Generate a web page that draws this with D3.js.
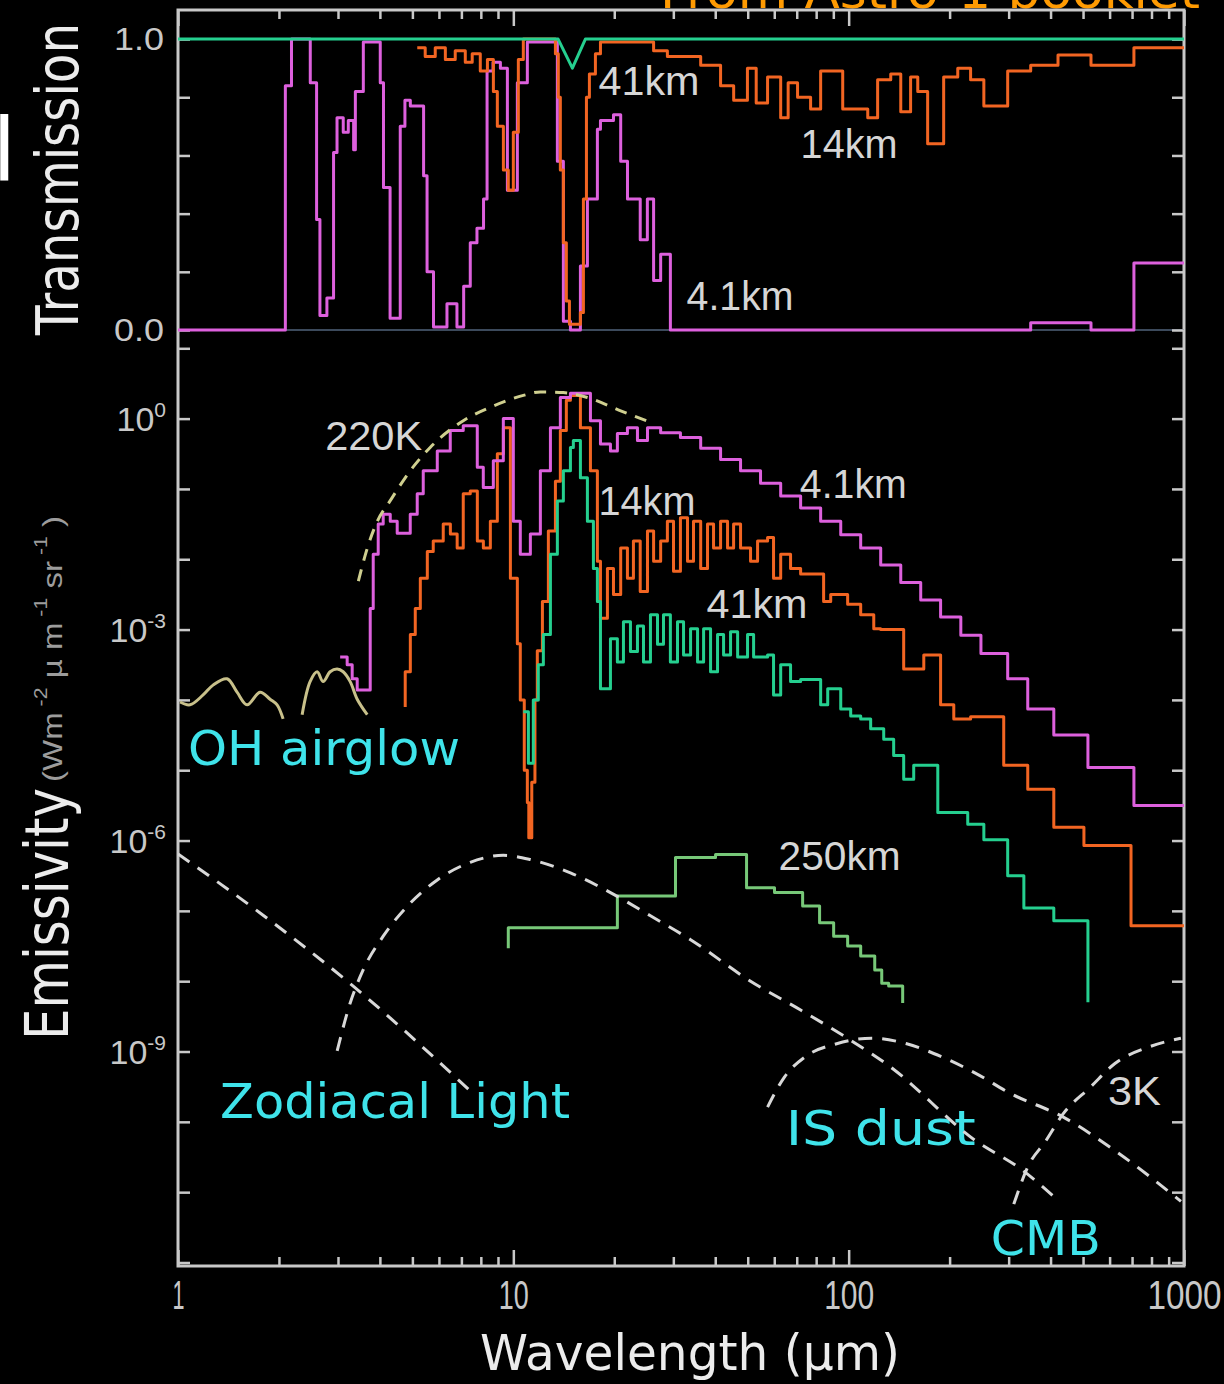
<!DOCTYPE html>
<html>
<head>
<meta charset="utf-8">
<script src="https://cdn.jsdelivr.net/npm/d3@7"></script>
<style>
  html, body { margin: 0; padding: 0; background: #000; }
  svg { display: block; }
</style>
</head>
<body>
<svg id="chart" width="1224" height="1384"></svg>
<script>
// ---- data: wavelength in micron, transmission 0..1 ----
const transMag = [[1,0],[2.09,0.84],[2.18,1.0],[2.48,0.85],[2.59,0.38],[2.65,0.05],[2.78,0.11],[2.91,0.61],[2.98,0.73],[3.11,0.68],[3.22,0.72],[3.34,0.62],[3.38,0.82],[3.57,0.99],[4.01,0.85],[4.10,0.49],[4.29,0.04],[4.60,0.7],[4.75,0.79],[4.93,0.77],[5.40,0.53],[5.53,0.2],[5.78,0.01],[6.34,0.09],[6.79,0.01],[7.11,0.15],[7.44,0.3],[7.79,0.35],[8.15,0.45],[8.35,0.89],[8.7,0.92],[9.15,0.9],[9.6,0.48],[10.28,0.85],[11.01,0.99],[13.53,0.58],[14.1,0.03],[14.8,0.0],[15.85,0.22],[16.63,0.45],[17.81,0.69],[18.19,0.72],[19.89,0.74],[20.9,0.58],[21.9,0.45],[23.9,0.31],[25.1,0.45],[26.2,0.17],[27.5,0.26],[29.4,0],[349,0.025],[528,0],[709,0.23],[1000,0.23]];
const transOra = [[5.17,0.97],[5.46,0.94],[5.85,0.97],[6.27,0.93],[6.71,0.96],[7.19,0.92],[7.54,0.95],[7.97,0.89],[8.37,0.93],[8.72,0.82],[8.96,0.7],[9.34,0.55],[9.66,0.48],[10.0,0.68],[10.35,0.93],[10.71,1.0],[13.35,0.95],[13.62,0.8],[13.81,0.55],[14.1,0.3],[14.39,0.1],[14.7,0.02],[15.85,0.06],[16.18,0.45],[16.52,0.8],[16.86,0.88],[17.57,0.95],[18.19,0.99],[26.2,0.96],[28.8,0.94],[36.2,0.91],[41.5,0.84],[45.4,0.79],[49.9,0.9],[53,0.78],[57.3,0.87],[62.7,0.73],[66,0.85],[70.4,0.8],[77,0.76],[82.5,0.89],[96,0.76],[114,0.73],[122,0.86],[133.5,0.88],[143,0.75],[153,0.87],[160.7,0.82],[172,0.64],[192,0.87],[211.5,0.9],[231,0.86],[253,0.77],[298,0.89],[349,0.91],[421,0.945],[528,0.91],[709,0.97],[1000,0.97]];
const transGrn = [[1,1],[13.6,1],[15.0,0.9],[16.4,1],[1000,1]];

// ---- data: wavelength in micron, log10 emissivity (W m-2 um-1 sr-1) ----
const emisMag = [[3.045,-3.39],[3.195,-3.5],[3.307,-3.7],[3.423,-3.86],[3.743,-2.7],[3.821,-1.93],[3.954,-1.5],[4.092,-1.36],[4.295,-1.46],[4.505,-1.63],[4.927,-1.36],[5.169,-1.07],[5.387,-0.74],[5.932,-0.46],[6.485,-0.17],[7.09,-0.1],[7.807,-0.69],[8.136,-0.98],[8.717,-0.6],[9.336,0.0],[10.0,-1.46],[10.49,-1.93],[11.24,-1.64],[12.04,-0.74],[12.9,-0.13],[13.81,0.3],[14.8,0.36],[16.98,-0.03],[18.19,-0.36],[19.48,-0.46],[20.43,-0.21],[21.89,-0.13],[23.45,-0.31],[25.12,-0.13],[27.5,-0.2],[31.5,-0.27],[36.2,-0.42],[41.5,-0.58],[47.6,-0.74],[54.6,-0.92],[62.7,-1.1],[71.9,-1.27],[82.5,-1.46],[94.7,-1.65],[108.6,-1.84],[124.6,-2.08],[143,-2.33],[164,-2.58],[188,-2.82],[216,-3.08],[248,-3.34],[298,-3.7],[342,-4.13],[409,-4.5],[517,-4.96],[709,-5.5],[1000,-5.5]];
const emisOra = [[4.76,-4.1],[4.76,-3.6],[4.93,-3.07],[5.10,-2.7],[5.28,-2.27],[5.54,-1.89],[5.77,-1.74],[6.18,-1.5],[6.49,-1.64],[6.80,-1.84],[7.09,-1.07],[7.44,-1.03],[7.81,-1.74],[8.14,-1.84],[8.54,-1.46],[8.96,-0.5],[9.34,-0.13],[9.80,-2.27],[10.28,-3.2],[10.49,-4.0],[10.78,-5.0],[11.01,-5.46],[11.12,-5.96],[11.35,-5.17],[11.6,-4.0],[11.79,-3.3],[12.21,-2.6],[12.72,-1.6],[13.35,-0.89],[13.81,-0.17],[14.39,0.26],[14.8,0.33],[15.85,-0.13],[16.98,-0.74],[17.81,-2.03],[18.19,-2.84],[19.08,-2.13],[19.89,-2.5],[20.9,-1.84],[21.89,-2.27],[22.81,-1.74],[23.9,-2.46],[25.12,-1.6],[26.2,-2.03],[27.5,-1.74],[28.8,-1.46],[30.04,-2.17],[31.5,-1.41],[33.07,-2.03],[34.46,-1.46],[36.2,-2.13],[37.94,-1.5],[39.54,-1.84],[41.5,-1.46],[43.53,-1.84],[45.38,-1.5],[47.6,-1.84],[50.98,-2.03],[53.5,-1.74],[57.3,-1.69],[59.7,-2.27],[62.7,-1.93],[67.1,-2.13],[71.9,-2.21],[84.2,-2.6],[88.4,-2.5],[99.3,-2.64],[108.6,-2.79],[118.8,-2.99],[124.6,-3.0],[145.9,-3.56],[167.5,-3.36],[188,-4.07],[205.8,-4.27],[231,-4.24],[290,-4.93],[342,-5.27],[409,-5.81],[503,-6.07],[695,-7.21],[1000,-7.21]];
const emisGrn = [[10.71,-4.17],[11.09,-4.9],[11.47,-4.0],[11.87,-3.5],[12.29,-3.07],[12.9,-1.93],[13.53,-1.17],[14.1,-0.74],[14.8,-0.41],[15.1,-0.31],[15.85,-0.84],[16.63,-1.46],[17.33,-2.13],[17.81,-2.6],[18.19,-3.84],[19.48,-3.13],[20.43,-3.46],[21.3,-2.89],[22.35,-3.31],[23.45,-2.95],[24.44,-3.46],[25.64,-2.79],[26.91,-3.21],[28.04,-2.79],[29.4,-3.46],[30.87,-2.89],[32.18,-3.36],[33.77,-2.99],[35.43,-3.46],[36.93,-2.99],[38.74,-3.6],[40.64,-3.07],[42.36,-3.36],[44.44,-3.03],[46.65,-3.39],[49.94,-3.07],[52.06,-3.39],[57.3,-3.36],[59.7,-3.93],[62.7,-3.5],[67.1,-3.74],[71.9,-3.71],[82.5,-4.07],[86.6,-3.84],[94.7,-4.13],[101.4,-4.23],[108.6,-4.27],[116.3,-4.41],[127.2,-4.56],[136.2,-4.79],[145.9,-5.13],[156.3,-4.93],[184.4,-5.6],[226.5,-5.77],[253,-5.99],[298,-6.5],[333,-6.96],[409,-7.14],[517,-8.3]];
const emis250 = [[9.66,-7.53],[9.66,-7.24],[20.43,-6.79],[30.45,-6.24],[40.09,-6.2],[49.6,-6.67],[60.1,-6.74],[72.9,-6.93],[81.9,-7.17],[90.2,-7.36],[99.3,-7.5],[108.6,-7.64],[119.6,-7.84],[125.5,-8.03],[131.6,-8.07],[144.9,-8.31]];
const bb220 = [[3.45,-2.31],[3.67,-1.84],[3.93,-1.46],[4.29,-1.17],[4.93,-0.74],[5.65,-0.41],[7.09,-0.03],[8.54,0.16],[10.71,0.33],[12.04,0.38],[14.1,0.37],[16.63,0.3],[20.9,0.11],[26.2,-0.07]];
const ohA = [[1.014,-4.03],[1.086,-4.07],[1.188,-3.93],[1.272,-3.79],[1.4,-3.7],[1.5,-3.89],[1.607,-4.07],[1.757,-3.89],[1.882,-3.99],[1.975,-4.07],[2.058,-4.27]];
const ohB = [[2.345,-4.21],[2.477,-3.74],[2.6,-3.6],[2.709,-3.74],[2.842,-3.6],[2.983,-3.56],[3.109,-3.6],[3.262,-3.74],[3.423,-3.99],[3.667,-4.21]];
const zodiScatter = [[1.0,-6.19],[1.757,-7.03],[3.33,-8.07],[7.44,-9.56]];
const zodiThermal = [[2.983,-8.99],[3.262,-8.31],[3.566,-7.84],[4.092,-7.36],[4.927,-6.89],[5.932,-6.56],[7.44,-6.31],[9.336,-6.21],[11.24,-6.27],[14.8,-6.46],[19.48,-6.74],[25.64,-7.07],[33.77,-7.41],[50.98,-8.0],[71.9,-8.41],[101.4,-8.84],[131.6,-9.2],[239.4,-10.27],[326,-10.67],[423.6,-11.13]];
const isDust = [[57.3,-9.79],[64.4,-9.36],[74.4,-9.07],[92.1,-8.89],[117.1,-8.81],[149,-8.89],[188.2,-9.07],[239.3,-9.31],[304.6,-9.6],[435.4,-9.93],[622.3,-10.41],[979,-11.13]];
const cmb = [[310.8,-11.17],[342.2,-10.64],[387.3,-10.27],[435.4,-9.89],[527.8,-9.5],[622.3,-9.17],[791.5,-8.93],[979,-8.81]];

// ---- ticks and labels ----
const waveMajor = [1, 10, 100, 1000];
const transTicks = [0, 0.2, 0.4, 0.6, 0.8, 1.0];
const emisExp = [-12, -11, -10, -9, -8, -7, -6, -5, -4, -3, -2, -1, 0, 1];
const emisLabelExp = [0, -3, -6, -9];
const transNotes = [["41km", 17.94, 0.808], ["14km", 71.9, 0.591], ["4.1km", 32.85, 0.069]];
const emisNotes = [["220K", 2.747, -0.45], ["14km", 17.94, -1.37], ["4.1km", 71.5, -1.13], ["41km", 37.68, -2.84], ["250km", 61.8, -6.42], ["3K", 593, -9.76]];
const sourceNotes = [["OH airglow", 1.071, -4.93], ["Zodiacal Light", 1.335, -9.95], ["IS dust", 64.9, -10.33], ["CMB", 265.4, -11.89]];

const svg = d3.select("#chart");
svg.append("rect").attr("width", 1224).attr("height", 1384).attr("fill", "#000");

const x = d3.scaleLog().domain([1, 1000]).range([178, 1184]);
const yT = d3.scaleLinear().domain([0, 1.1]).range([330, 10]);
const yE = d3.scaleLog().domain([Math.pow(10, -12.05), Math.pow(10, 1.26)]).range([1266, 330]);
const e10 = v => Math.pow(10, v);

const waveMinor = [];
[1, 10, 100].forEach(d => { for (let k = 2; k < 10; k++) waveMinor.push(d * k); });

const grey = "#c8c8c8";
const numFont = "'Liberation Sans', Arial, sans-serif";
const bigFont = "'DejaVu Sans', Verdana, sans-serif";

// clip regions for the two panels
const defs = svg.append("defs");
defs.append("clipPath").attr("id", "clipT").append("rect")
  .attr("x", 178).attr("y", 10).attr("width", 1006).attr("height", 322);
defs.append("clipPath").attr("id", "clipE").append("rect")
  .attr("x", 178).attr("y", 330).attr("width", 1006).attr("height", 936);

// titles (the orange one and the white stroke at the left edge are cut off in the source too)
svg.append("text").attr("x", 660).attr("y", 8)
  .attr("textLength", 540).attr("lengthAdjust", "spacingAndGlyphs")
  .style("font-family", bigFont).style("font-size", "48px").attr("fill", "#ff9a00")
  .text("From Astro-1 booklet");
svg.append("text").attr("x", -8).attr("y", 180)
  .style("font-family", bigFont).style("font-size", "88px").attr("fill", "#fff").text("l");

svg.append("text").attr("transform", "translate(78,335) rotate(-90)")
  .attr("textLength", 312).attr("lengthAdjust", "spacingAndGlyphs")
  .style("font-family", bigFont).style("font-size", "58px").attr("fill", "#ececec")
  .text("Transmission");
svg.append("text").attr("transform", "translate(68,1040) rotate(-90)")
  .attr("textLength", 252).attr("lengthAdjust", "spacingAndGlyphs")
  .style("font-family", bigFont).style("font-size", "60px").attr("fill", "#ececec")
  .text("Emissivity");
const units = svg.append("text").attr("transform", "translate(62,782) rotate(-90)")
  .attr("textLength", 266).attr("lengthAdjust", "spacingAndGlyphs")
  .style("font-family", numFont).style("font-size", "28px").attr("fill", "#9c9c9c");
units.append("tspan").text("(Wm");
units.append("tspan").attr("dy", -15).style("font-size", "18px").text(" -2");
units.append("tspan").attr("dy", 15).text("  \u00b5 m");
units.append("tspan").attr("dy", -15).style("font-size", "18px").text(" -1");
units.append("tspan").attr("dy", 15).text("  sr");
units.append("tspan").attr("dy", -15).style("font-size", "18px").text(" -1");
units.append("tspan").attr("dy", 15).text("  )");

svg.append("text").attr("x", 480).attr("y", 1370)
  .attr("textLength", 420).attr("lengthAdjust", "spacingAndGlyphs")
  .style("font-family", bigFont).style("font-size", "50px").attr("fill", "#ececec")
  .text("Wavelength (\u00b5m)");

// frame
svg.append("rect").attr("x", 178).attr("y", 10).attr("width", 1006).attr("height", 1256)
  .attr("fill", "none").attr("stroke", grey).attr("stroke-width", 3);
svg.append("line").attr("x1", 178).attr("x2", 1184).attr("y1", 330).attr("y2", 330)
  .attr("stroke", "#3c4a5c").attr("stroke-width", 2);

function styleAxis(g, size) {
  g.select(".domain").remove();
  g.selectAll(".tick line").attr("stroke", grey).attr("stroke-width", 2.5);
  g.selectAll(".tick text").attr("fill", grey)
    .style("font-family", numFont).style("font-size", size + "px");
}

// wavelength axes, top and bottom, ticks inward
const xb1 = svg.append("g").attr("transform", "translate(0,1266)")
  .call(d3.axisBottom(x).tickValues(waveMinor).tickSize(-9).tickFormat(""));
styleAxis(xb1, 10);
const xb2 = svg.append("g").attr("transform", "translate(0,1266)")
  .call(d3.axisBottom(x).tickValues(waveMajor).tickSize(-16).tickPadding(15).tickFormat(d3.format("d")));
styleAxis(xb2, 40);
const xFit = {1: 12, 10: 30, 100: 50, 1000: 74};
xb2.selectAll(".tick text").attr("textLength", d => xFit[d]).attr("lengthAdjust", "spacingAndGlyphs");

const xt1 = svg.append("g").attr("transform", "translate(0,10)")
  .call(d3.axisTop(x).tickValues(waveMinor).tickSize(-9).tickFormat(""));
styleAxis(xt1, 10);
const xt2 = svg.append("g").attr("transform", "translate(0,10)")
  .call(d3.axisTop(x).tickValues(waveMajor).tickSize(-16).tickFormat(""));
styleAxis(xt2, 10);

// transmission axes
const yl = svg.append("g").attr("transform", "translate(178,0)")
  .call(d3.axisLeft(yT).tickValues(transTicks).tickSize(-12).tickPadding(14)
    .tickFormat(d => (d === 0 || d === 1) ? d3.format(".1f")(d) : ""));
styleAxis(yl, 32);
yl.selectAll(".tick text").filter(d => d === 0 || d === 1)
  .attr("textLength", 50).attr("lengthAdjust", "spacingAndGlyphs");
const yr = svg.append("g").attr("transform", "translate(1184,0)")
  .call(d3.axisRight(yT).tickValues(transTicks).tickSize(-12).tickFormat(""));
styleAxis(yr, 10);

// emissivity axes
const el = svg.append("g").attr("transform", "translate(178,0)")
  .call(d3.axisLeft(yE).tickValues(emisExp.map(e10)).tickSize(-12).tickFormat(""));
styleAxis(el, 10);
const er = svg.append("g").attr("transform", "translate(1184,0)")
  .call(d3.axisRight(yE).tickValues(emisExp.map(e10)).tickSize(-12).tickFormat(""));
styleAxis(er, 10);

emisLabelExp.forEach(e => {
  const t = svg.append("text").attr("x", 166).attr("y", yE(e10(e)) + 12)
    .attr("text-anchor", "end").attr("fill", grey)
    .style("font-family", numFont).style("font-size", "34px");
  t.append("tspan").text("10");
  t.append("tspan").attr("dy", -14).style("font-size", "21px").text(e === 0 ? "0" : String(e));
});

// annotations
const noteFit = {"41km": 101, "14km": 97, "4.1km": 107, "220K": 97, "250km": 122, "3K": 53};
function note(txt, px, py, fill, font, size, width) {
  svg.append("text").attr("x", px).attr("y", py)
    .attr("textLength", width).attr("lengthAdjust", "spacingAndGlyphs")
    .style("font-family", font).style("font-size", size + "px").attr("fill", fill)
    .text(txt);
}
transNotes.forEach(d => note(d[0], x(d[1]), yT(d[2]), "#d6d6d6", numFont, 41, noteFit[d[0]]));
emisNotes.forEach(d => note(d[0], x(d[1]), yE(e10(d[2])), "#d6d6d6", numFont, 41, noteFit[d[0]]));
const srcFit = {"OH airglow": 272, "Zodiacal Light": 350, "IS dust": 190, "CMB": 110};
sourceNotes.forEach(d => note(d[0], x(d[1]), yE(e10(d[2])), "#3fe3ea", bigFont, 48, srcFit[d[0]]));

// line generators
const lineT = curve => d3.line().x(d => x(d[0])).y(d => yT(d[1])).curve(curve);
const lineE = curve => d3.line().x(d => x(d[0])).y(d => yE(e10(d[1]))).curve(curve);

function draw(g, gen, data, color, dash) {
  g.append("path").datum(data).attr("d", gen)
    .attr("fill", "none").attr("stroke", color).attr("stroke-width", 3)
    .attr("stroke-linejoin", "round").attr("stroke-dasharray", dash || null);
}

const gT = svg.append("g").attr("clip-path", "url(#clipT)");
draw(gT, lineT(d3.curveStepAfter), transMag, "#dd60dd");
draw(gT, lineT(d3.curveStepAfter), transOra, "#f26522");
draw(gT, lineT(d3.curveLinear), transGrn, "#25cf8f");

const gE = svg.append("g").attr("clip-path", "url(#clipE)");
draw(gE, lineE(d3.curveStepAfter), emisOra, "#f26522");
draw(gE, lineE(d3.curveStepAfter), emisGrn, "#25cf8f");
draw(gE, lineE(d3.curveStepAfter), emisMag, "#dd60dd");
draw(gE, lineE(d3.curveStepAfter), emis250, "#77c878");
draw(gE, lineE(d3.curveMonotoneX), bb220, "#cfcf8f", "12,9");
draw(gE, lineE(d3.curveCatmullRom), ohA, "#c8c08a");
draw(gE, lineE(d3.curveCatmullRom), ohB, "#c8c08a");
draw(gE, lineE(d3.curveMonotoneX), zodiScatter, "#d8d8d8", "14,10");
draw(gE, lineE(d3.curveMonotoneX), zodiThermal, "#d8d8d8", "14,10");
draw(gE, lineE(d3.curveMonotoneX), isDust, "#d8d8d8", "14,10");
draw(gE, lineE(d3.curveMonotoneX), cmb, "#d8d8d8", "14,10");
</script>
</body>
</html>
